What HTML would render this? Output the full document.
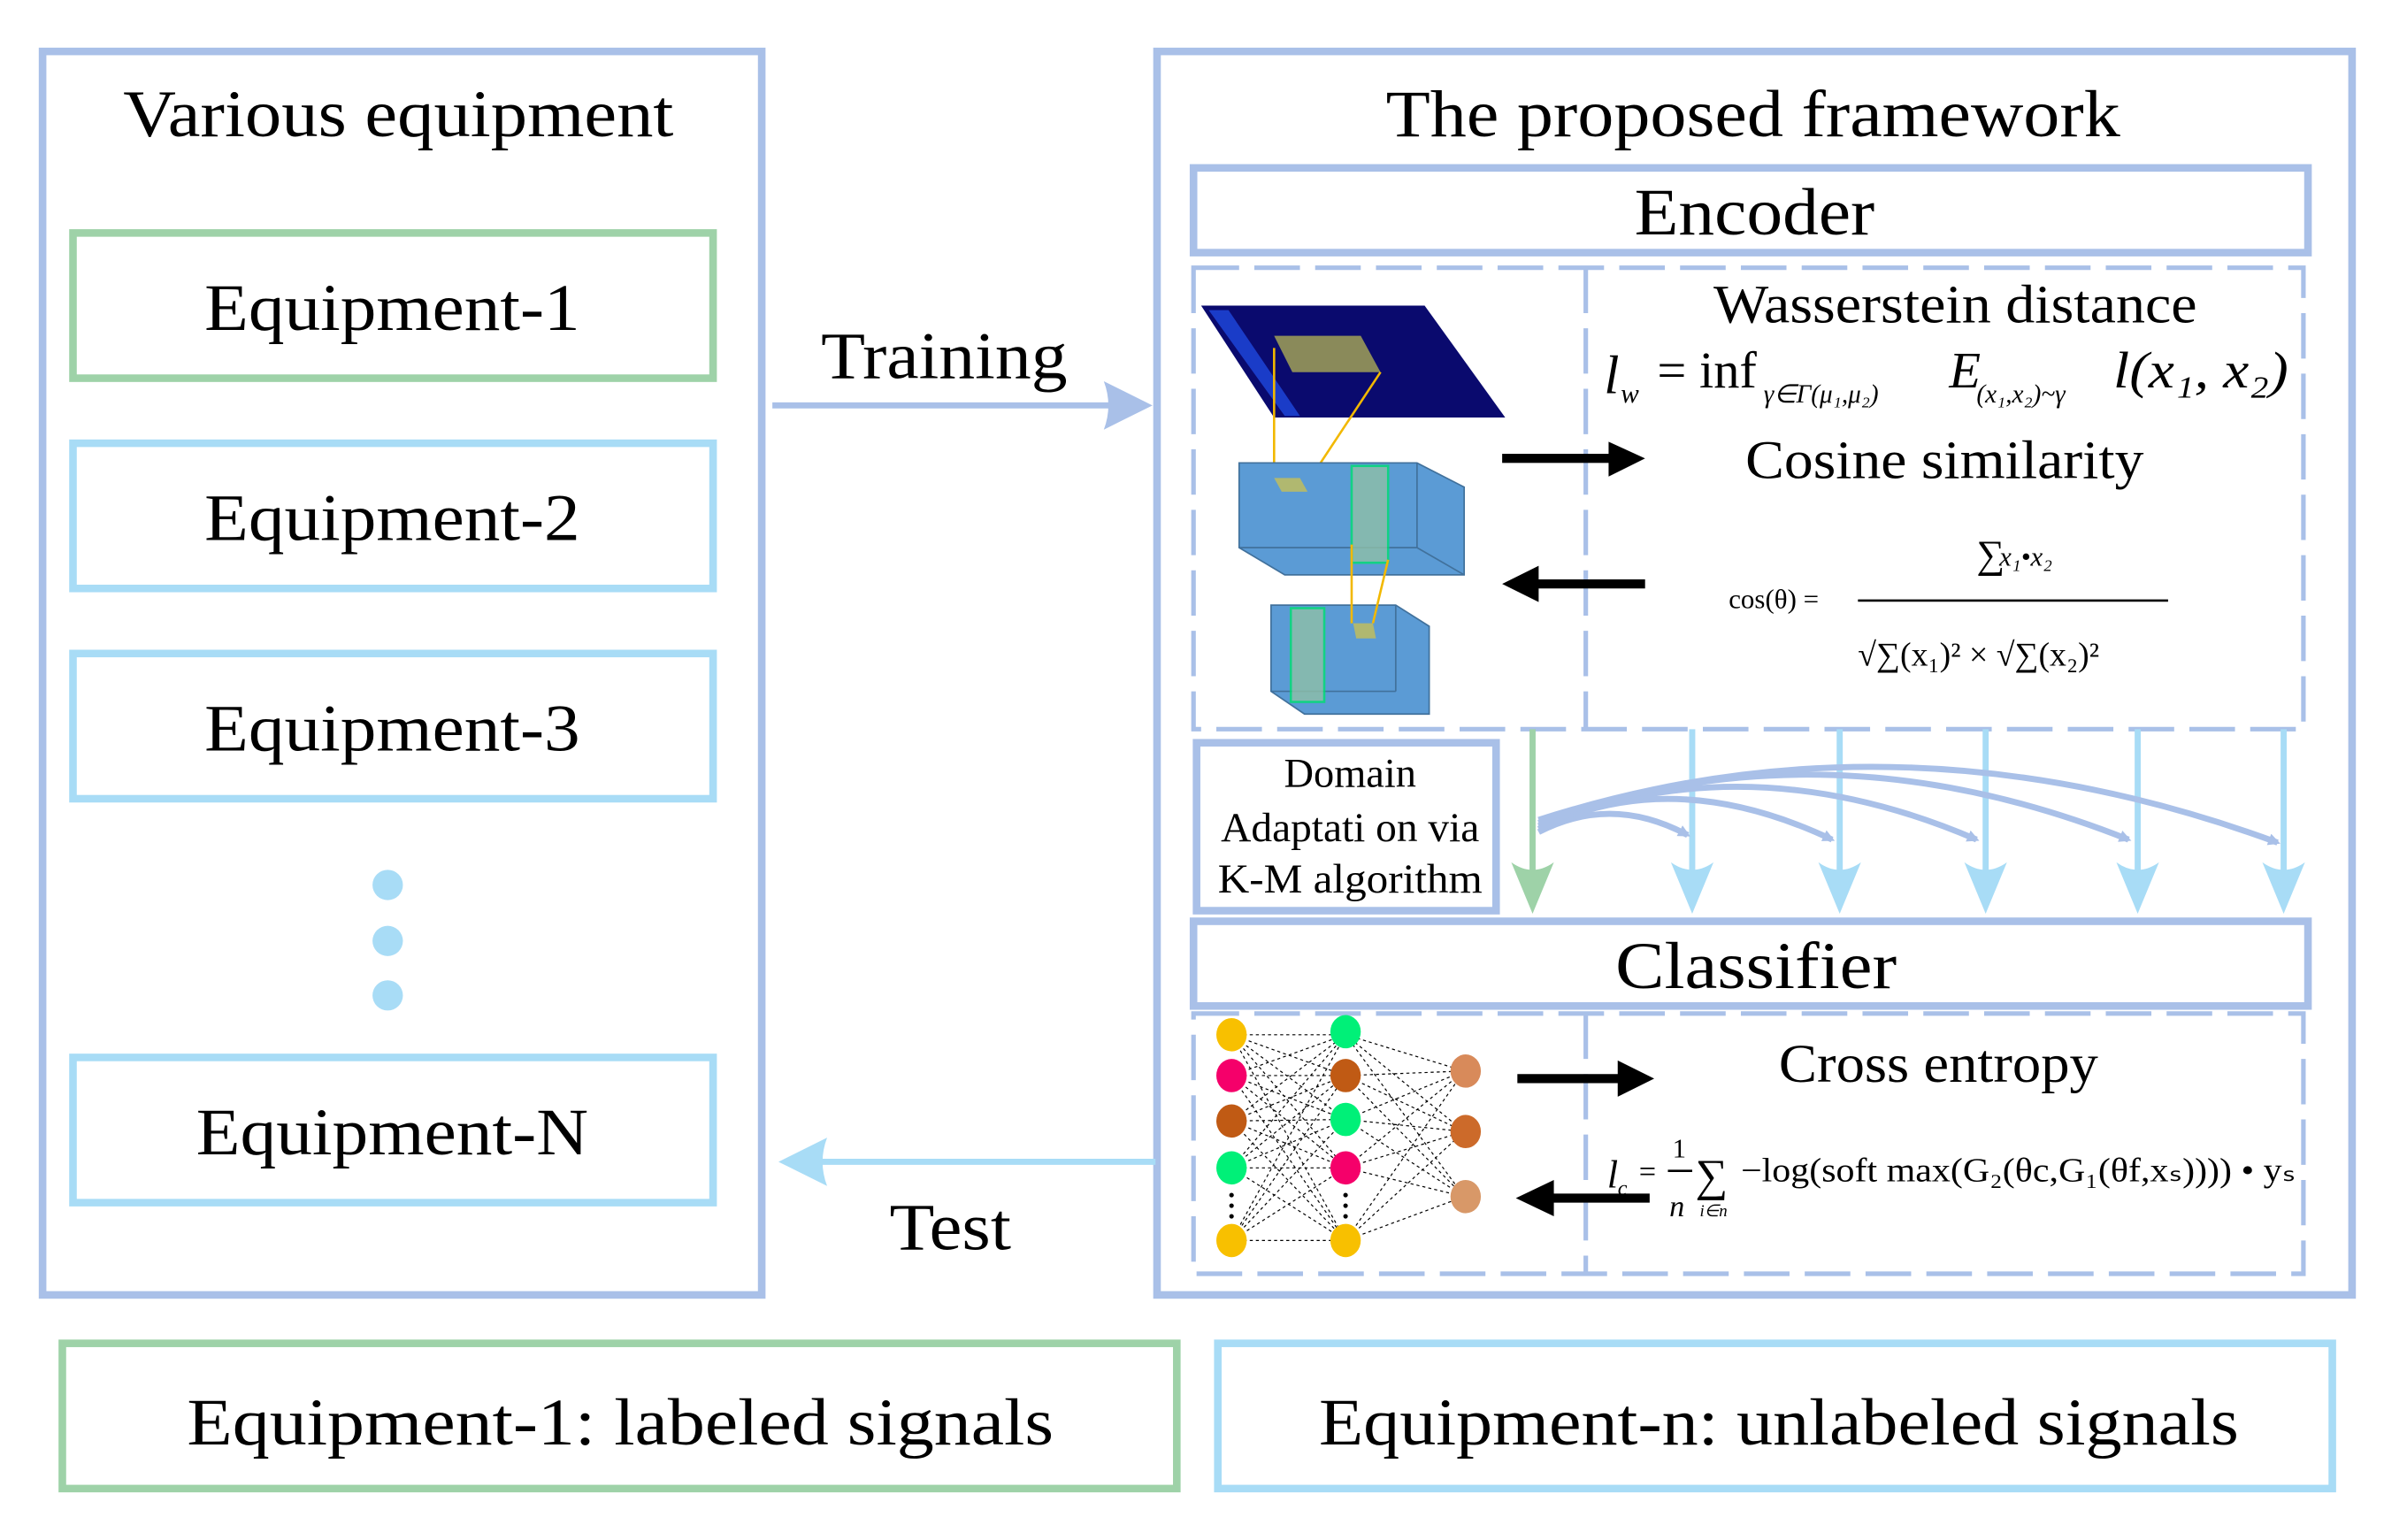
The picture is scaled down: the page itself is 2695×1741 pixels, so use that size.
<!DOCTYPE html>
<html><head><meta charset="utf-8"><style>
html,body{margin:0;padding:0;background:#fff;}
svg{display:block;}
text{font-family:"Liberation Serif",serif;fill:#000;}
</style></head><body>
<svg width="2695" height="1741" viewBox="0 0 1568 1018" preserveAspectRatio="none" xmlns="http://www.w3.org/2000/svg">
<defs>
<marker id="ab" markerWidth="8" markerHeight="8" refX="6" refY="4" orient="auto" markerUnits="userSpaceOnUse" viewBox="0 0 8 8"><path d="M0,0 L8,4 L0,8 Z" fill="#a9c0e8"/></marker>
</defs>
<g fill="none" stroke-width="5">
<rect x="28" y="34" width="473" height="822" stroke="#a9c0e8"/>
<rect x="48" y="154" width="421" height="96" stroke="#9ed2a8"/>
<rect x="48" y="293" width="421" height="96" stroke="#a8dcf6"/>
<rect x="48" y="432" width="421" height="96" stroke="#a8dcf6"/>
<rect x="48" y="699" width="421" height="96" stroke="#a8dcf6"/>
<rect x="761" y="34" width="786" height="822" stroke="#a9c0e8"/>
<rect x="785" y="111" width="733" height="56" stroke="#a9c0e8"/>
<rect x="785" y="609" width="733" height="56" stroke="#a9c0e8"/>
<rect x="787" y="491" width="197" height="111" stroke="#a9c0e8"/>
<rect x="41" y="888" width="733" height="96" stroke="#9ed2a8"/>
<rect x="801" y="888" width="733" height="96" stroke="#a8dcf6"/>
</g>
<g fill="none" stroke="#a9c0e8" stroke-width="3" stroke-dasharray="30,10">
<rect x="785" y="177" width="730" height="305"/>
<line x1="1043" y1="177" x2="1043" y2="482"/>
<rect x="785" y="670" width="730" height="172"/>
<line x1="1043" y1="670" x2="1043" y2="842"/>
</g>
<circle cx="255" cy="585" r="10" fill="#a8dcf6"/>
<circle cx="255" cy="622" r="10" fill="#a8dcf6"/>
<circle cx="255" cy="658" r="10" fill="#a8dcf6"/>
<!-- training/test arrows -->
<line x1="508" y1="268" x2="735" y2="268" stroke="#a9c0e8" stroke-width="4"/>
<path d="M726,252 L758,268 L726,284 Q732,268 726,252Z" fill="#a9c0e8"/>
<line x1="760" y1="768" x2="535" y2="768" stroke="#a8dcf6" stroke-width="4"/>
<path d="M544,752 L512,768 L544,784 Q538,768 544,752Z" fill="#a8dcf6"/>
<!-- texts -->
<text x="262" y="90" font-size="44" text-anchor="middle" textLength="362" lengthAdjust="spacingAndGlyphs">Various equipment</text>
<text x="258" y="218" font-size="44" text-anchor="middle" textLength="247" lengthAdjust="spacingAndGlyphs">Equipment-1</text>
<text x="258" y="357" font-size="44" text-anchor="middle" textLength="247" lengthAdjust="spacingAndGlyphs">Equipment-2</text>
<text x="258" y="496" font-size="44" text-anchor="middle" textLength="247" lengthAdjust="spacingAndGlyphs">Equipment-3</text>
<text x="258" y="763" font-size="44" text-anchor="middle" textLength="258" lengthAdjust="spacingAndGlyphs">Equipment-N</text>
<text x="621" y="250" font-size="44" text-anchor="middle" textLength="162" lengthAdjust="spacingAndGlyphs">Training</text>
<text x="625" y="826" font-size="44" text-anchor="middle" textLength="80" lengthAdjust="spacingAndGlyphs">Test</text>
<text x="1153" y="90" font-size="44" text-anchor="middle" textLength="483" lengthAdjust="spacingAndGlyphs">The proposed framework</text>
<text x="1154" y="155" font-size="44" text-anchor="middle" textLength="158" lengthAdjust="spacingAndGlyphs">Encoder</text>
<text x="1155" y="653" font-size="44" text-anchor="middle" textLength="185" lengthAdjust="spacingAndGlyphs">Classifier</text>
<text x="1286" y="213" font-size="36" text-anchor="middle" textLength="318" lengthAdjust="spacingAndGlyphs">Wasserstein distance</text>
<text x="1279" y="316" font-size="36" text-anchor="middle" textLength="262" lengthAdjust="spacingAndGlyphs">Cosine similarity</text>
<text x="1275" y="715" font-size="36" text-anchor="middle" textLength="210" lengthAdjust="spacingAndGlyphs">Cross entropy</text>
<text x="888" y="520" font-size="27" text-anchor="middle">Domain</text>
<text x="888" y="556" font-size="27" text-anchor="middle" textLength="170" lengthAdjust="spacingAndGlyphs">Adaptati on via</text>
<text x="888" y="590" font-size="27" text-anchor="middle" textLength="174" lengthAdjust="spacingAndGlyphs">K-M algorithm</text>
<text x="408" y="955" font-size="44" text-anchor="middle" textLength="570" lengthAdjust="spacingAndGlyphs">Equipment-1:  labeled signals</text>
<text x="1170" y="955" font-size="44" text-anchor="middle" textLength="605" lengthAdjust="spacingAndGlyphs">Equipment-n: unlabeled signals</text>
<!-- formulas -->
<text x="1055" y="260" font-size="36" font-style="italic">l</text>
<text x="1066" y="266" font-size="18" font-style="italic">w</text>
<text x="1090" y="256" font-size="34">= inf</text>
<text x="1160" y="266" font-size="17" font-style="italic">γ∈Γ(μ₁,μ₂)</text>
<text x="1282" y="256" font-size="34" font-style="italic">E</text>
<text x="1300" y="266" font-size="17" font-style="italic">(x₁,x₂)~γ</text>
<text x="1390" y="256" font-size="34" font-style="italic" textLength="115" lengthAdjust="spacingAndGlyphs">l(x₁, x₂)</text>
<text x="1300" y="375" font-size="26">∑</text>
<text x="1315" y="374" font-size="18" font-style="italic">x₁•x₂</text>
<text x="1137" y="402" font-size="18">cos(θ) =</text>
<line x1="1222" y1="397" x2="1426" y2="397" stroke="#000" stroke-width="1.5"/>
<text x="1222" y="440" font-size="22">√∑(x₁)² × √∑(x₂)²</text>
<text x="1057" y="785" font-size="26" font-style="italic">l</text>
<text x="1064" y="790" font-size="14" font-style="italic">c</text>
<text x="1078" y="781" font-size="20">=</text>
<text x="1100" y="765" font-size="18">1</text>
<line x1="1097" y1="774" x2="1113" y2="774" stroke="#000" stroke-width="1.5"/>
<text x="1098" y="804" font-size="20" font-style="italic">n</text>
<text x="1115" y="787" font-size="30">∑</text>
<text x="1118" y="804" font-size="11" font-style="italic">i∈n</text>
<text x="1145" y="781" font-size="22" textLength="365" lengthAdjust="spacingAndGlyphs">−log(soft max(G₂(θc,G₁(θf,xₛ)))) • yₛ</text>
<!-- black arrows -->
<g fill="#000">
<rect x="988" y="300" width="72" height="6"/><path d="M1058,292 L1082,303 L1058,315Z"/>
<rect x="1010" y="383" width="72" height="6"/><path d="M1012,374 L988,386 L1012,398Z"/>
<rect x="998" y="710" width="68" height="6"/><path d="M1064,701 L1088,713 L1064,725Z"/>
<rect x="1020" y="789" width="65" height="6"/><path d="M1022,780 L997,792 L1022,804Z"/>
</g>
<!-- encoder picture -->
<polygon points="790,202 937,202 990,276 838,276" fill="#0a0a6e"/>
<polygon points="795,205 808,205 855,275 845,275" fill="#1a3cc8"/>
<polygon points="838,222 895,222 908,246 850,246" fill="#8a8a5a"/>
<line x1="838" y1="230" x2="838" y2="318" stroke="#f2b800" stroke-width="1.5"/>
<line x1="908" y1="246" x2="858" y2="322" stroke="#f2b800" stroke-width="1.5"/>
<polygon points="815,306 932,306 963,322 963,380 845,380 815,362" fill="#5b9bd5" stroke="#41719c"/>
<line x1="815" y1="362" x2="932" y2="362" stroke="#41719c"/><line x1="932" y1="306" x2="932" y2="362" stroke="#41719c"/><line x1="932" y1="362" x2="963" y2="380" stroke="#41719c"/>
<polygon points="838,316 855,316 860,325 843,325" fill="#b0b870"/>
<rect x="889" y="308" width="24" height="64" fill="#8fc0a8" stroke="#00e070" stroke-width="1.5" opacity="0.8"/>
<polygon points="836,400 918,400 940,414 940,472 858,472 836,457" fill="#5b9bd5" stroke="#41719c"/>
<line x1="836" y1="457" x2="918" y2="457" stroke="#41719c"/><line x1="918" y1="400" x2="918" y2="457" stroke="#41719c"/>
<rect x="849" y="402" width="22" height="62" fill="#8fc0a8" stroke="#00e070" stroke-width="1.5" opacity="0.8"/>
<polygon points="890,412 903,412 905,422 892,422" fill="#b0b870"/>
<line x1="889" y1="360" x2="889" y2="412" stroke="#f2b800" stroke-width="1.5"/>
<line x1="913" y1="370" x2="903" y2="412" stroke="#f2b800" stroke-width="1.5"/>
<!-- vertical arrows -->
<g stroke-width="4">
<line x1="1008" y1="482" x2="1008" y2="580" stroke="#9ed2a8"/>
<line x1="1113" y1="482" x2="1113" y2="580" stroke="#a8dcf6"/>
<line x1="1210" y1="482" x2="1210" y2="580" stroke="#a8dcf6"/>
<line x1="1306" y1="482" x2="1306" y2="580" stroke="#a8dcf6"/>
<line x1="1406" y1="482" x2="1406" y2="580" stroke="#a8dcf6"/>
<line x1="1502" y1="482" x2="1502" y2="580" stroke="#a8dcf6"/>
</g>
<path d="M994,570 L1008,604 L1022,570 Q1008,580 994,570Z" fill="#9ed2a8"/>
<g fill="#a8dcf6">
<path d="M1099,570 L1113,604 L1127,570 Q1113,580 1099,570Z"/>
<path d="M1196,570 L1210,604 L1224,570 Q1210,580 1196,570Z"/>
<path d="M1292,570 L1306,604 L1320,570 Q1306,580 1292,570Z"/>
<path d="M1392,570 L1406,604 L1420,570 Q1406,580 1392,570Z"/>
<path d="M1488,570 L1502,604 L1516,570 Q1502,580 1488,570Z"/>
</g>
<g fill="none" stroke="#a9c0e8" stroke-width="4">
<path d="M1012,550 Q1060,525 1110,552" marker-end="url(#ab)"/>
<path d="M1012,548 Q1100,505 1205,555" marker-end="url(#ab)"/>
<path d="M1012,546 Q1150,490 1300,555" marker-end="url(#ab)"/>
<path d="M1012,544 Q1200,475 1400,555" marker-end="url(#ab)"/>
<path d="M1012,542 Q1250,465 1498,557" marker-end="url(#ab)"/>
</g>
<!-- neural net -->
<g stroke="#000" stroke-width="0.7" stroke-dasharray="2,2">
<path d="M810,684 L885,684 M810,684 L885,711 M810,684 L885,740 M810,684 L885,772 M810,684 L885,820
M810,711 L885,684 M810,711 L885,711 M810,711 L885,740 M810,711 L885,772 M810,711 L885,820
M810,741 L885,684 M810,741 L885,711 M810,741 L885,740 M810,741 L885,772 M810,741 L885,820
M810,772 L885,684 M810,772 L885,711 M810,772 L885,740 M810,772 L885,772 M810,772 L885,820
M810,820 L885,684 M810,820 L885,711 M810,820 L885,740 M810,820 L885,772 M810,820 L885,820
M885,684 L963,708 M885,684 L963,748 M885,684 L963,791
M885,711 L963,708 M885,711 L963,748 M885,711 L963,791
M885,740 L963,708 M885,740 L963,748 M885,740 L963,791
M885,772 L963,708 M885,772 L963,748 M885,772 L963,791
M885,820 L963,708 M885,820 L963,748 M885,820 L963,791"/>
</g>
<g>
<ellipse cx="810" cy="684" rx="10" ry="11" fill="#f8c000"/>
<ellipse cx="810" cy="711" rx="10" ry="11" fill="#f5006a"/>
<ellipse cx="810" cy="741" rx="10" ry="11" fill="#c05a14"/>
<ellipse cx="810" cy="772" rx="10" ry="11" fill="#00f078"/>
<ellipse cx="810" cy="820" rx="10" ry="11" fill="#f8c000"/>
<ellipse cx="885" cy="682" rx="10" ry="11" fill="#00f078"/>
<ellipse cx="885" cy="711" rx="10" ry="11" fill="#c05a14"/>
<ellipse cx="885" cy="740" rx="10" ry="11" fill="#00f078"/>
<ellipse cx="885" cy="772" rx="10" ry="11" fill="#f5006a"/>
<ellipse cx="885" cy="820" rx="10" ry="11" fill="#f8c000"/>
<ellipse cx="964" cy="708" rx="10" ry="11" fill="#d88a5a"/>
<ellipse cx="964" cy="748" rx="10" ry="11" fill="#cc6a2a"/>
<ellipse cx="964" cy="791" rx="10" ry="11" fill="#d89868"/>
</g>
<g fill="#000"><circle cx="810" cy="790" r="1.5"/><circle cx="810" cy="797" r="1.5"/><circle cx="810" cy="804" r="1.5"/>
<circle cx="885" cy="790" r="1.5"/><circle cx="885" cy="797" r="1.5"/><circle cx="885" cy="804" r="1.5"/></g>
</svg>
</body></html>
